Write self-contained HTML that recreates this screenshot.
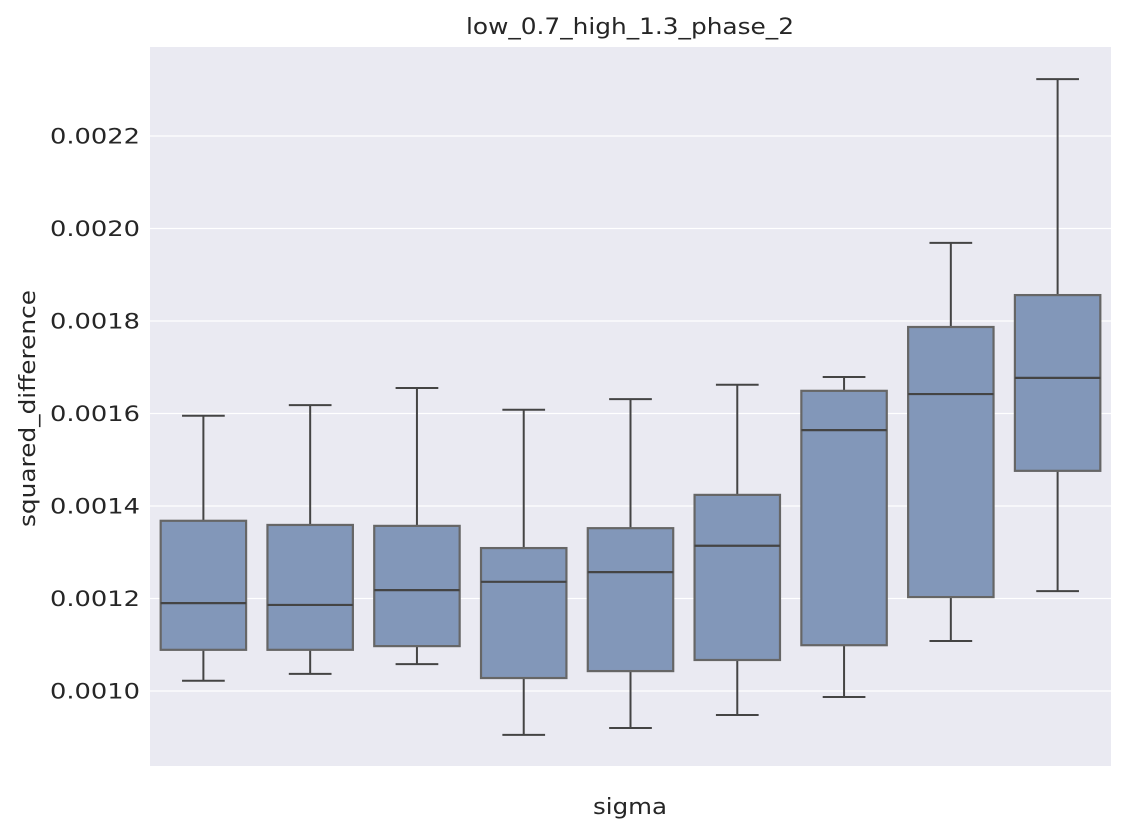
<!DOCTYPE html>
<html><head><meta charset="utf-8"><style>
body{margin:0;background:#fff;font-family:"Liberation Sans","DejaVu Sans",sans-serif;}
svg text{font-family:"DejaVu Sans","Liberation Sans",sans-serif;fill:#262626;}
</style></head><body>
<svg id="chart" width="1126" height="835" xmlns="http://www.w3.org/2000/svg">
<rect x="150" y="47" width="961" height="719" fill="#eaeaf2"/>
<g id="grid"></g><g id="boxes"></g><g id="yticks"></g>
<text x="466" y="34" font-size="22" textLength="328" lengthAdjust="spacingAndGlyphs">low_0.7_high_1.3_phase_2</text>
<text x="593" y="814" font-size="22" textLength="74" lengthAdjust="spacingAndGlyphs">sigma</text>
<text transform="translate(35,527) rotate(-90)" font-size="22" textLength="237" lengthAdjust="spacingAndGlyphs">squared_difference</text>
</svg>
<script>
const categories=["s1","s2","s3","s4","s5","s6","s7","s8","s9"];
const whiskerLow=[0.001022,0.001037,0.001058,0.000905,0.000920,0.000948,0.000987,0.001108,0.001216];
const q1=[0.001089,0.001089,0.001097,0.001028,0.001043,0.001067,0.001099,0.001203,0.001476];
const medians=[0.001190,0.001186,0.001218,0.001236,0.001257,0.001314,0.001564,0.001642,0.001677];
const q3=[0.001368,0.001359,0.001357,0.001309,0.001352,0.001424,0.001649,0.001787,0.001856];
const whiskerHigh=[0.001595,0.001618,0.001655,0.001608,0.001631,0.001662,0.001679,0.001969,0.002323];
const yTicks=[0.0010,0.0012,0.0014,0.0016,0.0018,0.0020,0.0022];
const yTickLabels=["0.0010","0.0012","0.0014","0.0016","0.0018","0.0020","0.0022"];
const NS="http://www.w3.org/2000/svg";
const X0=150,X1=1111,Y0=47,Y1=766,vMin=0.0008378,vMax=0.0023924;
const y=v=>Y1-(v-vMin)/(vMax-vMin)*(Y1-Y0);
const band=(X1-X0)/categories.length;
const xc=i=>X0+band*(i+0.5);
function mk(tag,attrs,parent){const e=document.createElementNS(NS,tag);for(const k in attrs)e.setAttribute(k,attrs[k]);parent.appendChild(e);return e;}
const grid=document.getElementById('grid'),yt=document.getElementById('yticks'),bx=document.getElementById('boxes');
yTicks.forEach((t,i)=>{
 const l=mk('line',{x1:X0,x2:X1,y1:y(t),y2:y(t),stroke:'#fff','stroke-width':1.3},grid);
 
 
 const tx=mk('text',{x:50,y:y(t)+7.5,'font-size':21,textLength:90,lengthAdjust:'spacingAndGlyphs'},yt);
 tx.textContent=yTickLabels[i];
 
 
});
const bw=band*0.8;
categories.forEach((c,i)=>{
 const g=mk('g',{},bx);
 
 
 const cx=xc(i);
 mk('line',{x1:cx,x2:cx,y1:y(q3[i]),y2:y(whiskerHigh[i]),stroke:'#444','stroke-width':2},g);
 mk('line',{x1:cx,x2:cx,y1:y(q1[i]),y2:y(whiskerLow[i]),stroke:'#444','stroke-width':2},g);
 mk('line',{x1:cx-bw/4,x2:cx+bw/4,y1:y(whiskerHigh[i]),y2:y(whiskerHigh[i]),stroke:'#444','stroke-width':2},g);
 mk('line',{x1:cx-bw/4,x2:cx+bw/4,y1:y(whiskerLow[i]),y2:y(whiskerLow[i]),stroke:'#444','stroke-width':2},g);
 mk('rect',{x:cx-bw/2,y:y(q3[i]),width:bw,height:y(q1[i])-y(q3[i]),fill:'#8297b9',stroke:'#666','stroke-width':2.2},g);
 mk('line',{x1:cx-bw/2,x2:cx+bw/2,y1:y(medians[i]),y2:y(medians[i]),stroke:'#444','stroke-width':2.2},g);
});
</script>
</body></html>
